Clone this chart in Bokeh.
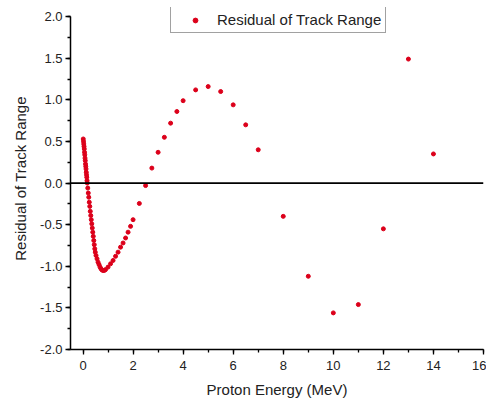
from bokeh.plotting import figure
from bokeh.models import Range1d, SingleIntervalTicker, PrintfTickFormatter, Span, Legend, LegendItem, ColumnDataSource
from bokeh.embed import file_html
from bokeh.resources import INLINE

# Proton energy (MeV)
energy = [0.01, 0.02, 0.03, 0.04, 0.05, 0.06, 0.07, 0.08, 0.09, 0.10, 0.11, 0.12, 0.13, 0.14, 0.15, 0.16, 0.17,
          0.19, 0.21, 0.23, 0.25, 0.27, 0.29, 0.31, 0.33, 0.35, 0.37, 0.39, 0.41, 0.43, 0.45, 0.47, 0.49,
          0.52, 0.56, 0.60, 0.64, 0.68, 0.72, 0.76, 0.80, 0.85,
          0.9, 1.0, 1.1, 1.2, 1.3, 1.4, 1.5, 1.6, 1.7, 1.8, 1.9, 2.0,
          2.25, 2.5, 2.75, 3.0, 3.25, 3.5, 3.75, 4.0, 4.5, 5.0, 5.5, 6.0, 6.5, 7.0,
          8.0, 9.0, 10.0, 11.0, 12.0, 13.0, 14.0]
# Residual of track range
residual = [0.53, 0.50, 0.47, 0.44, 0.41, 0.37, 0.34, 0.30, 0.27, 0.23, 0.20, 0.17, 0.13, 0.10, 0.07, 0.03, 0.00,
            -0.06, -0.12, -0.17, -0.23, -0.28, -0.34, -0.39, -0.44, -0.49, -0.54, -0.59, -0.64, -0.69, -0.74, -0.79, -0.83,
            -0.87, -0.91, -0.95, -0.98, -1.01, -1.03, -1.045, -1.05, -1.05,
            -1.04, -1.01, -0.97, -0.93, -0.88, -0.83, -0.77, -0.72, -0.66, -0.59, -0.52, -0.44,
            -0.245, -0.03, 0.18, 0.37, 0.55, 0.72, 0.86, 0.99, 1.12, 1.16, 1.10, 0.94, 0.70, 0.40,
            -0.40, -1.12, -1.56, -1.46, -0.55, 1.49, 0.35]

series_label = "Residual of Track Range"
x_label = "Proton Energy (MeV)"
y_label = "Residual of Track Range"

FONT = "Liberation Sans"
TXT = "#222222"

p = figure(width=486, height=400, output_backend="svg", toolbar_location=None,
           x_range=Range1d(-0.5, 16), y_range=Range1d(-2.0, 2.11),
           min_border_left=70, min_border_right=3, min_border_top=7, min_border_bottom=47)
p.outline_line_color = None
p.xgrid.visible = False
p.ygrid.visible = False

src = ColumnDataSource(dict(x=energy, y=residual))
r = p.scatter("x", "y", source=src, size=4, color="#dc001a", line_color="#dc001a")

p.add_layout(Span(location=0, dimension="width", line_color="#000000", line_width=1.6))

for ax in (p.xaxis[0], p.yaxis[0]):
    ax.axis_line_color = "#000000"
    ax.axis_line_width = 1.5
    ax.major_tick_line_color = "#000000"
    ax.minor_tick_line_color = "#000000"
    ax.major_tick_line_width = 1.3
    ax.minor_tick_line_width = 1.3
    ax.major_tick_in = 0
    ax.major_tick_out = 5
    ax.minor_tick_in = 0
    ax.minor_tick_out = 3
    ax.major_label_text_font = FONT
    ax.major_label_text_font_size = "13px"
    ax.major_label_text_color = TXT
    ax.axis_label_text_font = FONT
    ax.axis_label_text_font_size = "15px"
    ax.axis_label_text_font_style = "normal"
    ax.axis_label_text_color = TXT

p.yaxis[0].bounds = (-2.0, 2.0)
p.xaxis[0].ticker = SingleIntervalTicker(interval=2, num_minor_ticks=2)
p.yaxis[0].ticker = SingleIntervalTicker(interval=0.5, num_minor_ticks=2)
p.yaxis[0].formatter = PrintfTickFormatter(format="%.1f")
p.xaxis[0].axis_label = x_label
p.yaxis[0].axis_label = y_label
p.xaxis[0].major_label_standoff = 6
p.xaxis[0].axis_label_standoff = 8
p.yaxis[0].major_label_standoff = 3
p.yaxis[0].axis_label_standoff = 8

legend = Legend(items=[LegendItem(label=series_label, renderers=[r])],
                location=(100, 316), padding=4, margin=0, spacing=0,
                glyph_width=40, glyph_height=12, label_height=12, label_standoff=2,
                label_text_font=FONT, label_text_font_size="15px", label_text_color=TXT,
                border_line_color="#444444", border_line_width=1.4,
                background_fill_color="white", background_fill_alpha=1)
p.add_layout(legend, "center")

open("out.html", "w").write(file_html(p, INLINE))
